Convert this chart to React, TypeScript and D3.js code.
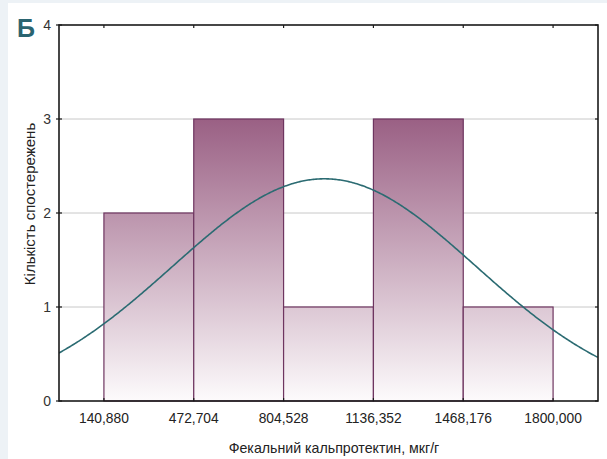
import React from "react";
import * as d3 from "d3";

const binEdges = [140.88, 472.704, 804.528, 1136.352, 1468.176, 1800.0];
const counts = [2, 3, 1, 3, 1];
const xTickLabels = ["140,880", "472,704", "804,528", "1136,352", "1468,176", "1800,000"];
const yTicks = [0, 1, 2, 3, 4];
const fitMean = 955;
const fitSd = 560;
const nObs = 10;

const W = 607;
const H = 459;
const M = { left: 59, right: 598, top: 25, bottom: 401 };

export default function App() {
  const bw = binEdges[1] - binEdges[0];
  const x = d3
    .scaleLinear()
    .domain([binEdges[0] - bw / 2, binEdges[binEdges.length - 1] + bw / 2])
    .range([M.left, M.right]);
  const y = d3.scaleLinear().domain([0, 4]).range([M.bottom, M.top]);

  const xs = d3.range(x.domain()[0], x.domain()[1] + 1, 5);
  const pdf = (v: number) =>
    (nObs * bw * Math.exp(-0.5 * ((v - fitMean) / fitSd) ** 2)) / (fitSd * Math.sqrt(2 * Math.PI));
  const line = d3
    .line<number>()
    .x((d) => x(d))
    .y((d) => y(pdf(d)))
    .curve(d3.curveLinear);

  const font = "Arial, 'Liberation Sans', sans-serif";

  return (
    <svg
      width={W}
      height={H}
      style={{ position: "absolute", left: 0, top: 0, display: "block" }}
    >
      <defs>
        <linearGradient id="barGrad" gradientUnits="userSpaceOnUse" x1="0" y1={y(0)} x2="0" y2={y(3)}>
          <stop offset="0" stopColor="#fdfbfc" />
          <stop offset="1" stopColor="#9a6084" />
        </linearGradient>
        <clipPath id="plotClip">
          <rect x={M.left} y={M.top} width={M.right - M.left} height={M.bottom - M.top} />
        </clipPath>
      </defs>
      <rect x={0} y={0} width={W} height={H} fill="#edf2f6" />
      <rect x={8} y={3} width={W - 8} height={H - 3} fill="#ffffff" />

      <text x={17} y={37} fontFamily={font} fontWeight="bold" fontSize={25} fill="#2a6470">
        Б
      </text>

      {/* grid lines */}
      {yTicks.slice(1, 4).map((t) => (
        <line key={t} x1={M.left} x2={M.right} y1={y(t)} y2={y(t)} stroke="#c8c8c8" strokeWidth={1} />
      ))}

      {/* bars */}
      {counts.map((c, i) => (
        <rect
          key={i}
          x={x(binEdges[i])}
          y={y(c)}
          width={x(binEdges[i + 1]) - x(binEdges[i])}
          height={y(0) - y(c)}
          fill="url(#barGrad)"
          stroke="#6e3560"
          strokeWidth={1.2}
        />
      ))}

      {/* normal fit */}
      <path
        d={line(xs) || ""}
        fill="none"
        stroke="#2b6b72"
        strokeWidth={1.6}
        clipPath="url(#plotClip)"
      />

      {/* frame */}
      <rect
        x={M.left}
        y={M.top}
        width={M.right - M.left}
        height={M.bottom - M.top}
        fill="none"
        stroke="#1a1a1a"
        strokeWidth={1.6}
      />

      {/* ticks */}
      {yTicks.map((t) => (
        <g key={t}>
          <line x1={M.left - 3} x2={M.left + 3} y1={y(t)} y2={y(t)} stroke="#1a1a1a" strokeWidth={1.2} />
          <line x1={M.right - 3} x2={M.right} y1={y(t)} y2={y(t)} stroke="#1a1a1a" strokeWidth={1.2} />
          <text
            x={M.left - 8}
            y={y(t) + 5}
            textAnchor="end"
            fontFamily={font}
            fontSize={14}
            fill="#333"
          >
            {t}
          </text>
        </g>
      ))}
      {binEdges.map((b, i) => (
        <g key={i}>
          <line x1={x(b)} x2={x(b)} y1={M.top} y2={M.top + 3} stroke="#1a1a1a" strokeWidth={1.2} />
          <line x1={x(b)} x2={x(b)} y1={M.bottom} y2={M.bottom - 3} stroke="#1a1a1a" strokeWidth={1.2} />
          <text
            x={x(b)}
            y={M.bottom + 22}
            textAnchor="middle"
            fontFamily={font}
            fontSize={13.8}
            fill="#222"
          >
            {xTickLabels[i]}
          </text>
        </g>
      ))}

      <text
        x={334}
        y={453}
        textAnchor="middle"
        fontFamily={font}
        fontSize={14.2}
        fill="#222"
      >
        Фекальний кальпротектин, мкг/г
      </text>
      <text
        transform={`translate(35, 204) rotate(-90)`}
        textAnchor="middle"
        fontFamily={font}
        fontSize={15}
        fill="#222"
      >
        Кількість спостережень
      </text>
    </svg>
  );
}
